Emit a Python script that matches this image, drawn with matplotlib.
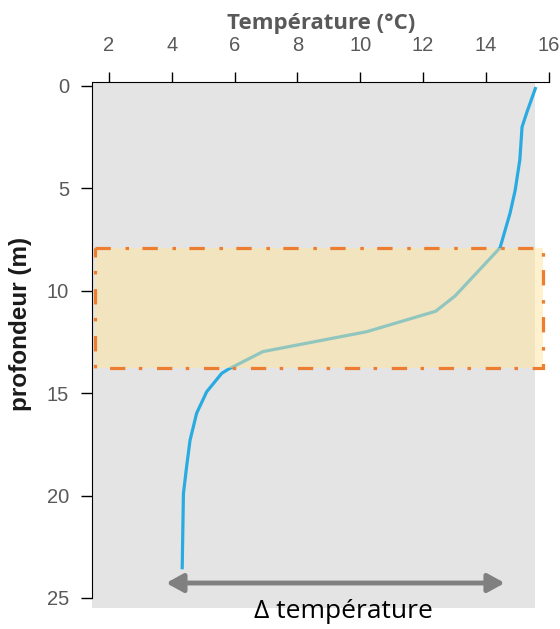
import matplotlib
matplotlib.use("Agg")
import matplotlib.pyplot as plt
from matplotlib.patches import Rectangle

# temperature profile (°C) vs depth (m)
temperature = [15.59, 15.3, 15.15, 15.08, 14.93, 14.77, 14.45, 13.02, 12.4,
               10.2, 6.9, 5.8, 5.59, 5.11, 4.79, 4.58, 4.47, 4.37, 4.33]
depth = [0.05, 1.3, 2.0, 3.6, 5.1, 6.2, 7.9, 10.25, 11.0,
         12.0, 12.97, 13.83, 14.03, 14.93, 15.98, 17.3, 18.6, 19.9, 23.6]

x_ticks = [2, 4, 6, 8, 10, 12, 14, 16]
y_ticks = [0, 5, 10, 15, 20, 25]

# thermocline band
band_depth = [7.9, 13.77]
band_temp = [1.55, 15.82]

# delta temperature arrow
delta_temp = [3.82, 14.6]
delta_depth = 24.27

W, H = 560, 629
fig = plt.figure(figsize=(W / 100, H / 100), dpi=100)
ax = fig.add_axes([92 / W, 1 - 608 / H, (550 - 92) / W, (608 - 82) / H])
ax.set_xlim(1.459, 16.04)
ax.set_ylim(25.49, -0.195)
ax.set_facecolor("none")

# grey panel
ax.add_patch(Rectangle((1.459, -0.195), 15.57 - 1.459, 25.49 + 0.195,
                       facecolor="#e4e4e4", edgecolor="none", zorder=0))

ax.plot(temperature, depth, color="#29abe2", lw=2.3, zorder=2,
        solid_capstyle="butt", solid_joinstyle="round")

ax.add_patch(Rectangle((band_temp[0], band_depth[0]), band_temp[1] - band_temp[0],
                       band_depth[1] - band_depth[0], facecolor="#ffe49a",
                       alpha=0.49, edgecolor="none", zorder=3, clip_on=False))
ax.add_patch(Rectangle((band_temp[0], band_depth[0]), band_temp[1] - band_temp[0],
                       band_depth[1] - band_depth[0], facecolor="none",
                       edgecolor="#ed7d31", lw=2.3, zorder=4, clip_on=False,
                       linestyle=(0, (4.8, 4.6, 1.1, 4.2))))

ax.annotate("", xy=(delta_temp[0], delta_depth), xytext=(delta_temp[1], delta_depth),
            arrowprops=dict(arrowstyle="<|-|>,head_length=1.0,head_width=0.55",
                            color="#808080", lw=3.5, shrinkA=0, shrinkB=0))
ax.text(9.45, 25.65, "Δ température", ha="center", va="center", fontsize=19,
        family=["Open Sans", "DejaVu Sans"], color="black", clip_on=False)

ax.xaxis.tick_top()
ax.xaxis.set_label_position("top")
ax.set_xticks(x_ticks)
ax.set_yticks(y_ticks)
ax.tick_params(length=8, width=1, color="black", labelcolor="#595959",
               labelsize=14.5)
ax.tick_params(axis="x", pad=12, length=7.5)
ax.tick_params(axis="y", pad=8.5)
for lab in ax.get_xticklabels() + ax.get_yticklabels():
    lab.set_family("Liberation Sans")

ax.spines["right"].set_visible(False)
ax.spines["bottom"].set_visible(False)
ax.spines["top"].set_bounds(1.459, 16)
ax.spines["left"].set_bounds(-0.195, 25)

ax.set_xlabel("Température (°C)", fontsize=16, fontweight="bold",
              color="#595959", family="Open Sans", labelpad=5)
ax.set_ylabel("profondeur (m)", fontsize=17.5, fontweight="bold",
              color="#1a1a1a", family="Liberation Sans")
ax.yaxis.set_label_coords(-0.13, 0.54)

fig.savefig("out.png", dpi=100)
